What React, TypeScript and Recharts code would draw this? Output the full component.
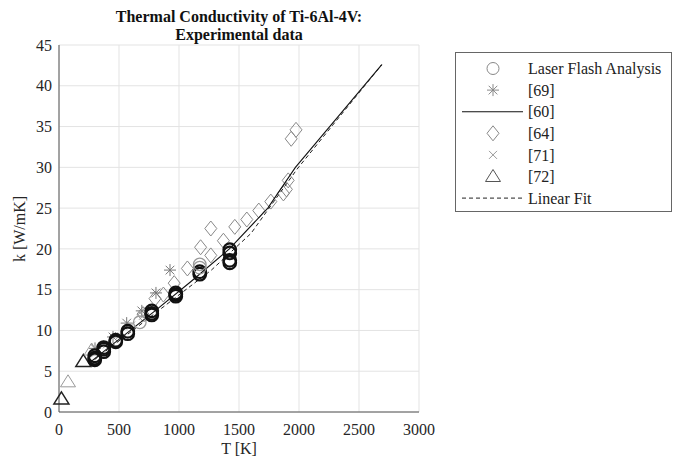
import React from 'react';
import { ScatterChart, Scatter, XAxis, YAxis, CartesianGrid } from 'recharts';

const FONT = '"Liberation Serif", "Times New Roman", serif';

const xTicks = [0, 500, 1000, 1500, 2000, 2500, 3000];
const yTicks = [0, 5, 10, 15, 20, 25, 30, 35, 40, 45];

// Laser Flash Analysis
const lfaT = [298, 298, 298, 373, 373, 373, 473, 473, 573, 573, 673, 773, 773, 773, 973, 973, 973, 1173, 1173, 1173, 1173, 1423, 1423, 1423, 1423];
const lfaK = [6.4, 6.6, 6.9, 7.4, 7.7, 7.9, 8.6, 8.8, 9.6, 9.9, 11.0, 11.9, 12.1, 12.4, 14.2, 14.4, 14.6, 16.9, 17.2, 17.7, 18.1, 18.3, 18.6, 19.5, 19.9];
const lfaShade = ['k', 'k', 'k', 'k', 'k', 'k', 'k', 'k', 'k', 'k', 'g', 'k', 'k', 'k', 'k', 'k', 'k', 'k', 'k', 'g', 'g', 'k', 'k', 'k', 'k'];

// [69]
const s69T = [300, 450, 564, 690, 808, 925];
const s69K = [7.8, 9.2, 10.9, 12.4, 14.6, 17.4];

// [60]
const s60T = [250, 500, 800, 1100, 1420, 1740, 1970, 2690];
const s60K = [6.0, 8.9, 12.4, 16.0, 20.0, 25.0, 30.0, 42.6];

// [64]
const s64T = [700, 800, 870, 960, 1070, 1180, 1265, 1265, 1370, 1465, 1565, 1665, 1765, 1870, 1895, 1910, 1935, 1975];
const s64K = [12.0, 13.9, 14.4, 15.8, 17.6, 20.2, 19.2, 22.5, 21.0, 22.7, 23.6, 24.7, 25.8, 26.8, 27.3, 28.4, 33.5, 34.6];

// [71]
const s71T = [300, 400, 500, 600, 700];
const s71K = [7.2, 8.3, 9.3, 10.6, 11.8];

// [72]
const s72T = [20, 75, 203, 272];
const s72K = [1.6, 3.7, 6.2, 7.6];
const s72Shade = ['k', 'g', 'k', 'g'];

// Linear Fit
const fitT = [250, 1270, 1600, 1985, 2690];
const fitK = [5.9, 17.4, 21.9, 29.8, 42.6];

const zip = (t: number[], k: number[], s?: string[]) =>
  t.map((x, i) => ({ x, y: k[i], c: s ? s[i] : 'g' }));

const lfa = zip(lfaT, lfaK, lfaShade);
const d69 = zip(s69T, s69K);
const d60 = zip(s60T, s60K);
const d64 = zip(s64T, s64K);
const d71 = zip(s71T, s71K);
const d72 = zip(s72T, s72K, s72Shade);
const dFit = zip(fitT, fitK);

const none = () => <g />;

const circleShape = (p: any) => {
  const dark = p.payload && p.payload.c === 'k';
  return (
    <circle cx={p.cx} cy={p.cy} r={6.3} fill="none" stroke={dark ? '#111' : '#999'} strokeWidth={dark ? 2.2 : 1.3} />
  );
};

const Asterisk = ({ cx, cy, color = '#777', s = 6 }: any) => {
  const d = s * 0.72;
  return (
    <g stroke={color} strokeWidth={1}>
      <line x1={cx - s} y1={cy} x2={cx + s} y2={cy} />
      <line x1={cx} y1={cy - s} x2={cx} y2={cy + s} />
      <line x1={cx - d} y1={cy - d} x2={cx + d} y2={cy + d} />
      <line x1={cx - d} y1={cy + d} x2={cx + d} y2={cy - d} />
    </g>
  );
};
const asteriskShape = (p: any) => <Asterisk cx={p.cx} cy={p.cy} />;

const Diamond = ({ cx, cy, color = '#888' }: any) => (
  <polygon points={`${cx},${cy - 7.5} ${cx + 6},${cy} ${cx},${cy + 7.5} ${cx - 6},${cy}`} fill="none" stroke={color} strokeWidth={1} />
);
const diamondShape = (p: any) => <Diamond cx={p.cx} cy={p.cy} />;

const XMark = ({ cx, cy, color = '#999' }: any) => (
  <g stroke={color} strokeWidth={1}>
    <line x1={cx - 4} y1={cy - 4} x2={cx + 4} y2={cy + 4} />
    <line x1={cx - 4} y1={cy + 4} x2={cx + 4} y2={cy - 4} />
  </g>
);
const xShape = (p: any) => <XMark cx={p.cx} cy={p.cy} />;

const Tri = ({ cx, cy, color = '#222', w = 1.3 }: any) => (
  <polygon points={`${cx},${cy - 7} ${cx + 7.5},${cy + 5} ${cx - 7.5},${cy + 5}`} fill="none" stroke={color} strokeWidth={w} />
);
const triShape = (p: any) => {
  const dark = p.payload && p.payload.c === 'k';
  return <Tri cx={p.cx} cy={p.cy} color={dark ? '#222' : '#999'} w={dark ? 1.5 : 1} />;
};

const legendRows = [68.5, 90.1, 111.7, 133.3, 154.9, 176.5, 198.1];
const legendLabels = ['Laser Flash Analysis', '[69]', '[60]', '[64]', '[71]', '[72]', 'Linear Fit'];

export default function App() {
  const tickStyle = { fill: '#262626', fontSize: 16, fontFamily: FONT };
  return (
    <div style={{ position: 'absolute', left: 0, top: 0, width: 681, height: 457, background: '#fff' }}>
      <ScatterChart width={681} height={457} margin={{ top: 45, right: 262, bottom: 0, left: 0 }}>
        <CartesianGrid stroke="#e3e3e3" strokeWidth={1} />
        <XAxis
          type="number"
          dataKey="x"
          domain={[0, 3000]}
          ticks={xTicks}
          height={45}
          tick={tickStyle}
          tickLine={false}
          tickSize={0}
          tickMargin={12}
          axisLine={{ stroke: '#555' }}
          interval={0}
        />
        <YAxis
          type="number"
          dataKey="y"
          domain={[0, 45]}
          ticks={yTicks}
          width={59}
          tick={tickStyle}
          tickLine={false}
          tickSize={0}
          tickMargin={7}
          axisLine={{ stroke: '#555' }}
          interval={0}
        />
        <Scatter data={d64} shape={diamondShape} isAnimationActive={false} />
        <Scatter data={d71} shape={xShape} isAnimationActive={false} />
        <Scatter data={d69} shape={asteriskShape} isAnimationActive={false} />
        <Scatter data={d72} shape={triShape} isAnimationActive={false} />
        <Scatter data={dFit} shape={none} line={{ stroke: '#222', strokeWidth: 1, strokeDasharray: '4 3' }} lineType="joint" isAnimationActive={false} />
        <Scatter data={d60} shape={none} line={{ stroke: '#111', strokeWidth: 1.1 }} lineType="joint" isAnimationActive={false} />
        <Scatter data={lfa} shape={circleShape} isAnimationActive={false} />
      </ScatterChart>
      <svg width={681} height={457} style={{ position: 'absolute', left: 0, top: 0, pointerEvents: 'none' }}>
        <text x={239} y={22} textAnchor="middle" fontFamily={FONT} fontSize={16} fontWeight="bold" fill="#111">
          Thermal Conductivity of Ti-6Al-4V:
        </text>
        <text x={239} y={40} textAnchor="middle" fontFamily={FONT} fontSize={16} fontWeight="bold" fill="#111">
          Experimental data
        </text>
        <text x={239} y={454} textAnchor="middle" fontFamily={FONT} fontSize={16} fill="#262626">
          T [K]
        </text>
        <text x={25} y={229} textAnchor="middle" fontFamily={FONT} fontSize={16} fill="#262626" transform="rotate(-90 25 229)">
          k [W/mK]
        </text>
        <rect x={455.5} y={52.5} width={216} height={159} fill="#fff" stroke="#666" strokeWidth={1} />
        <circle cx={493} cy={legendRows[0]} r={6} fill="none" stroke="#888" strokeWidth={1} />
        <Asterisk cx={493} cy={legendRows[1]} color="#888" s={6} />
        <line x1={462} y1={legendRows[2]} x2={523} y2={legendRows[2]} stroke="#111" strokeWidth={1.1} />
        <Diamond cx={493} cy={legendRows[3]} color="#888" />
        <XMark cx={493} cy={legendRows[4]} color="#999" />
        <Tri cx={493} cy={legendRows[5]} color="#555" w={1} />
        <line x1={462} y1={legendRows[6]} x2={523} y2={legendRows[6]} stroke="#222" strokeWidth={1} strokeDasharray="4 3" />
        {legendLabels.map((l, i) => (
          <text key={l} x={528} y={legendRows[i]} dy="0.35em" fontFamily={FONT} fontSize={16} fill="#222">
            {l}
          </text>
        ))}
      </svg>
    </div>
  );
}
